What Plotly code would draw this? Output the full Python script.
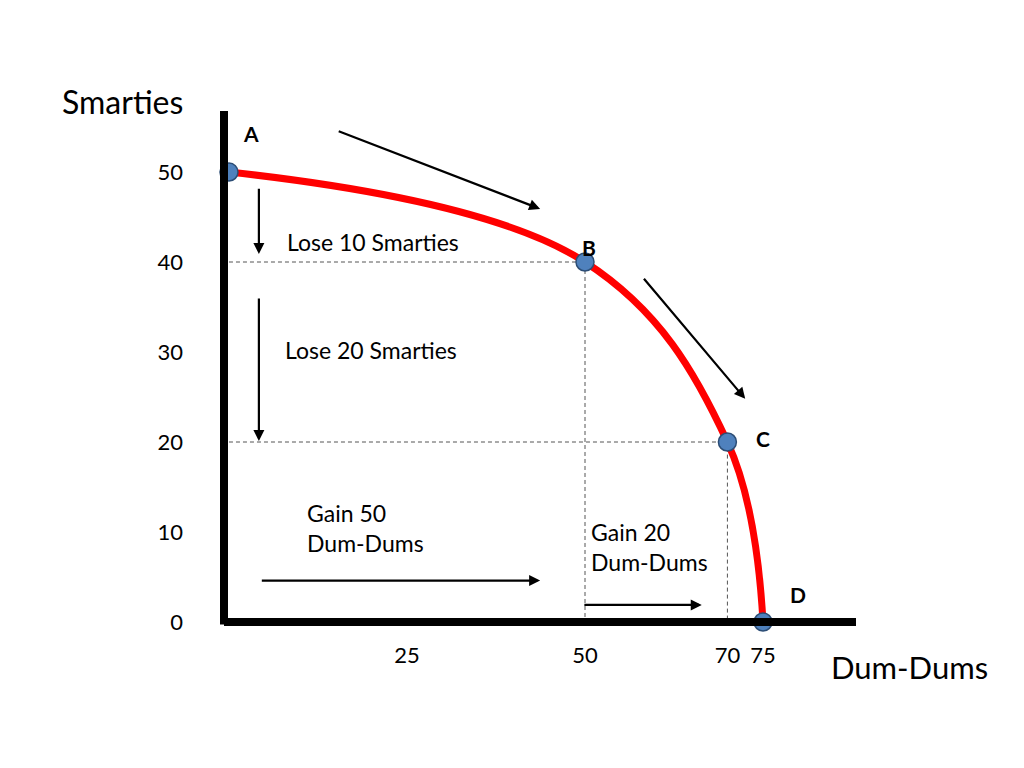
import plotly.graph_objects as go

# ---- data ----
point_labels = ["A", "B", "C", "D"]
dum_dums = [0, 50, 70, 75]          # x values
smarties = [50, 40, 20, 0]          # y values
x_ticks = [25, 50, 70, 75]
y_ticks = [0, 10, 20, 30, 40, 50]

FONT = "Lato"
fig = go.Figure()

# dashed guide lines to B and C
for xv, yv in [(dum_dums[1], smarties[1]), (dum_dums[2], smarties[2])]:
    fig.add_trace(go.Scatter(x=[0, xv, xv], y=[yv, yv, 0], mode="lines",
                             line=dict(color="#555555", width=1, dash="4px,3px"),
                             hoverinfo="skip", showlegend=False))

# PPF curve
fig.add_trace(go.Scatter(x=dum_dums, y=smarties, mode="lines",
                         line=dict(color="#ff0000", width=7, shape="spline", smoothing=1.1),
                         showlegend=False, cliponaxis=False))
# points
fig.add_trace(go.Scatter(x=dum_dums, y=smarties, mode="markers",
                         marker=dict(size=18, color="#4f81bd", line=dict(color="#2c4d75", width=1.5)),
                         showlegend=False, cliponaxis=False))

# axis lines
fig.add_shape(type="line", xref="paper", yref="paper", x0=0, x1=0, y0=-0.005, y1=1,
              line=dict(color="black", width=8))
fig.add_shape(type="line", xref="paper", yref="paper", x0=0, x1=1, y0=0, y1=0,
              line=dict(color="black", width=8))

# point letters
letter_pos = {"A": (3.1, 54.3), "B": (50.6, 41.6), "C": (75.0, 20.4), "D": (79.9, 3.1)}
for lab in point_labels:
    lx, ly = letter_pos[lab]
    fig.add_annotation(x=lx, y=ly, text=f"<b>{lab}</b>", showarrow=False,
                       font=dict(family=FONT, size=21, color="black"))

# arrows (tail -> head)
arrows = [((15.2, 54.6), (43.7, 45.9)),
          ((58.1, 38.3), (72.5, 24.8)),
          ((4.2, 48.3), (4.2, 40.9)),
          ((4.2, 36.1), (4.2, 20.1)),
          ((4.4, 4.6), (43.7, 4.6)),
          ((49.7, 1.9), (66.4, 1.9))]
for (tx, ty), (hx, hy) in arrows:
    fig.add_annotation(x=hx, y=hy, ax=tx, ay=ty, xref="x", yref="y", axref="x", ayref="y",
                       text="", showarrow=True, arrowhead=2, arrowsize=1.0, arrowwidth=2.2,
                       arrowcolor="black")

# text labels
texts = [("Lose 10 Smarties", 7.9, 42.2),
         ("Lose 20 Smarties", 7.6, 30.2),
         ("Gain 50<br>Dum-Dums", 10.7, 10.4),
         ("Gain 20<br>Dum-Dums", 50.6, 8.3)]
for t, tx, ty in texts:
    fig.add_annotation(x=tx, y=ty, text=t, showarrow=False, xanchor="left", align="left",
                       font=dict(family=FONT, size=23, color="black"))

# axis titles
fig.add_annotation(xref="paper", yref="paper", x=-0.16, y=1.018, text="Smarties",
                   xanchor="center", yanchor="middle",
                   showarrow=False, font=dict(family=FONT, size=32, color="black"))
fig.add_annotation(xref="paper", yref="paper", x=1.084, y=-0.088, text="Dum-Dums",
                   xanchor="center", yanchor="middle",
                   showarrow=False, font=dict(family=FONT, size=31, color="black"))

fig.update_layout(
    width=1024, height=768,
    margin=dict(l=216, r=176, t=103, b=154),
    paper_bgcolor="white", plot_bgcolor="white",
    showlegend=False,
    xaxis=dict(range=[-0.7, 88.06], showgrid=False, zeroline=False, showline=False,
               tickvals=x_ticks, ticks="", ticklabelstandoff=18,
               tickfont=dict(family=FONT, size=22, color="black")),
    yaxis=dict(range=[0, 56.78], showgrid=False, zeroline=False, showline=False,
               tickvals=y_ticks, ticks="", ticklabelstandoff=40,
               tickfont=dict(family=FONT, size=22, color="black")),
)

fig.write_html("out.html")
